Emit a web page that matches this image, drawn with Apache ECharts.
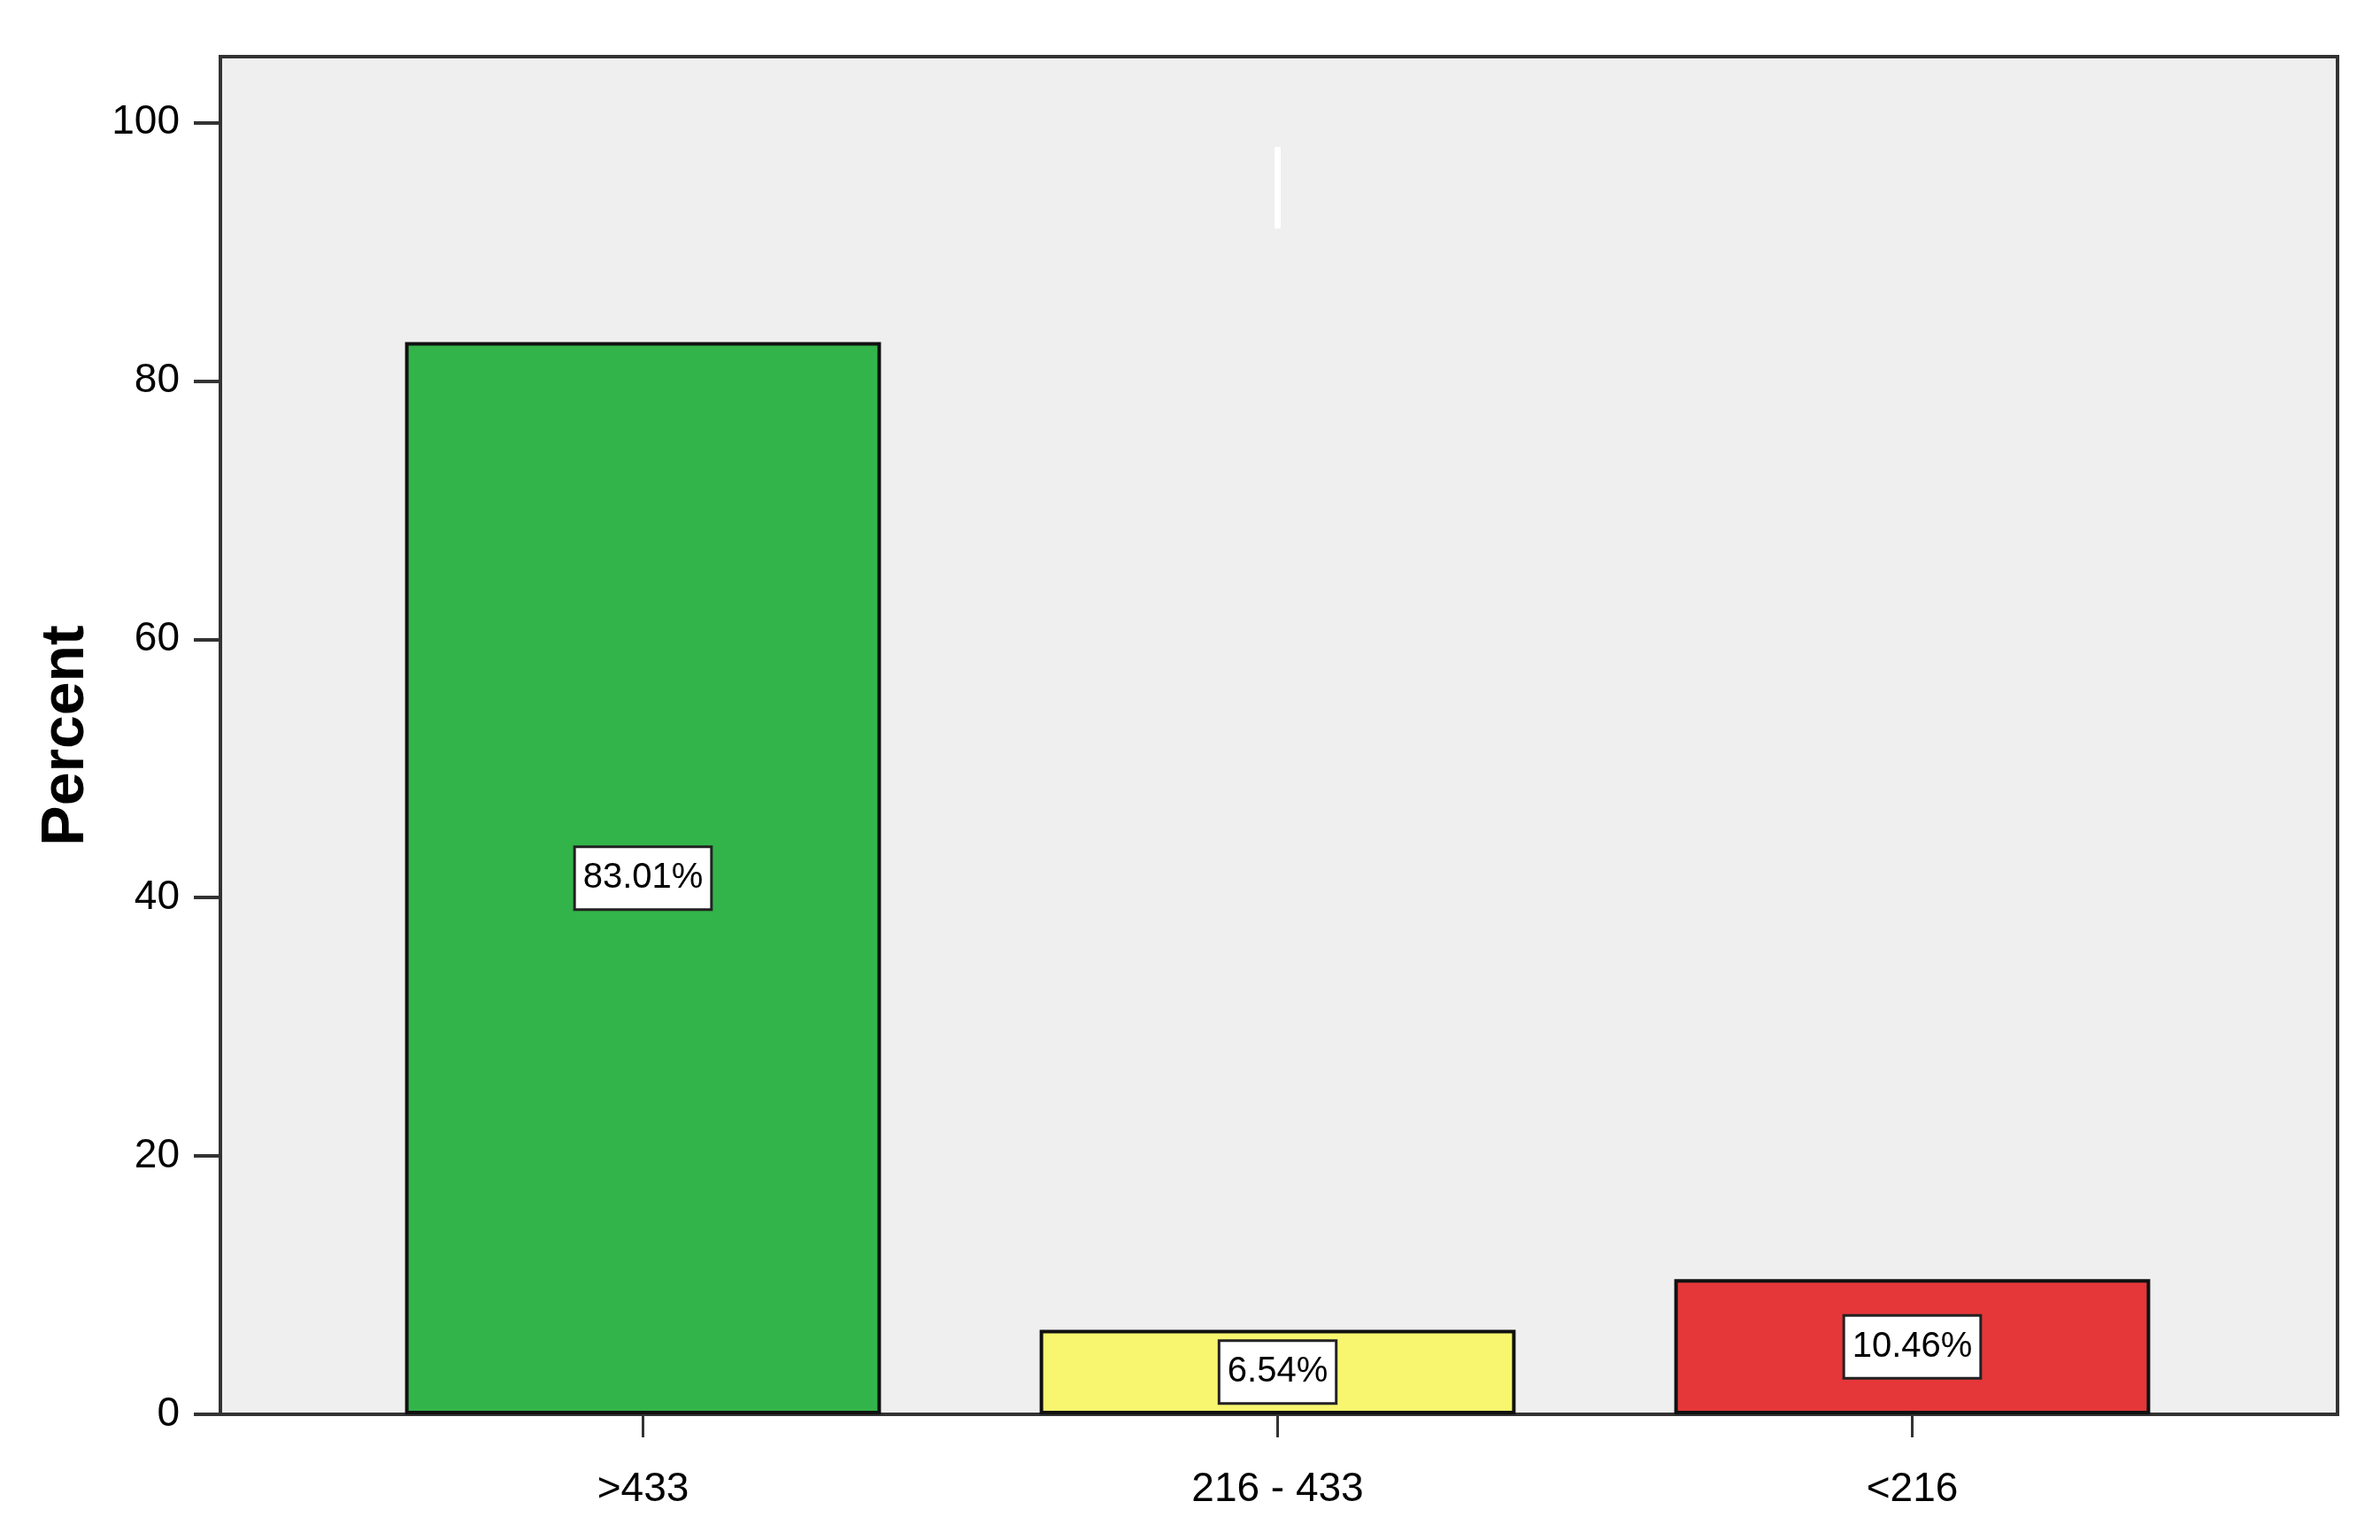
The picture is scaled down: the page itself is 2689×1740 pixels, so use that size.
<!DOCTYPE html>
<html>
<head>
<meta charset="utf-8">
<title>Percent</title>
<script src="https://cdn.jsdelivr.net/npm/echarts@6/dist/echarts.min.js"></script>
<style>
    html, body { margin: 0; padding: 0; background: #fff; }
    #chart { width: 2689px; height: 1740px; }
</style>
</head>
<body>
<div id="chart"></div>
<script>
    // 数据
    var categories = ['>433', '216 - 433', '<216']
    var percents = [83.01, 6.54, 10.46]
    var barColors = ['#33b44a', '#f8f66f', '#e5373a']
    var yTicks = [0, 20, 40, 60, 80, 100]
    var yMax = 105.1
    // 中间那条白色短线 (原图里的残留)
    var whiteMark = [91.8, 98.1]

    var font = '"Liberation Sans", Arial, sans-serif'

    var chart = echarts.init(document.getElementById('chart'))
    chart.setOption({
        animation: false,
        textStyle: { fontFamily: font },
        grid: [
            // 外框 + 灰色背景
            { left: 249, right: 48, top: 64, bottom: 142, show: true,
              backgroundColor: '#efefef', borderColor: '#333', borderWidth: 4 },
            // 柱子区域
            { left: 368, right: 170, top: 64, bottom: 142 }
        ],
        xAxis: [
            { gridIndex: 0, type: 'value', show: false },
            {
                gridIndex: 1,
                type: 'category',
                data: categories,
                axisLine: { show: false },
                axisTick: { show: true, alignWithLabel: true, length: 26,
                            lineStyle: { color: '#333', width: 3 } },
                axisLabel: { margin: 62, fontSize: 46, color: '#000', fontFamily: font }
            }
        ],
        yAxis: [
            {
                gridIndex: 0,
                type: 'value',
                min: 0,
                max: yMax,
                interval: 20,
                splitLine: { show: false },
                axisLine: { show: false },
                axisTick: { show: true, length: 30, customValues: yTicks,
                            lineStyle: { color: '#333', width: 4 } },
                axisLabel: { margin: 46, fontSize: 46, color: '#000', fontFamily: font,
                             customValues: yTicks },
                name: 'Percent',
                nameLocation: 'middle',
                nameGap: 140,
                nameTextStyle: { fontSize: 68, fontWeight: 'bold', color: '#000', fontFamily: font }
            },
            { gridIndex: 1, type: 'value', min: 0, max: yMax, show: false }
        ],
        series: [
            {
                type: 'bar',
                xAxisIndex: 1,
                yAxisIndex: 1,
                barWidth: '75%',
                data: percents.map(function (v, i) {
                    return { value: v, itemStyle: { color: barColors[i] } }
                }),
                itemStyle: { borderColor: '#111', borderWidth: 4 },
                label: {
                    show: true,
                    position: 'inside',
                    formatter: function (p) { return p.value.toFixed(2) + '%' },
                    fontSize: 40,
                    color: '#000',
                    fontFamily: font,
                    backgroundColor: '#fff',
                    borderColor: '#222',
                    borderWidth: 3,
                    padding: [14, 8]
                },
                markLine: {
                    silent: true,
                    symbol: 'none',
                    label: { show: false },
                    lineStyle: { color: '#fff', width: 7, type: 'solid' },
                    data: [[
                        { coord: [categories[1], whiteMark[0]] },
                        { coord: [categories[1], whiteMark[1]] }
                    ]]
                }
            }
        ]
    })
</script>
</body>
</html>
